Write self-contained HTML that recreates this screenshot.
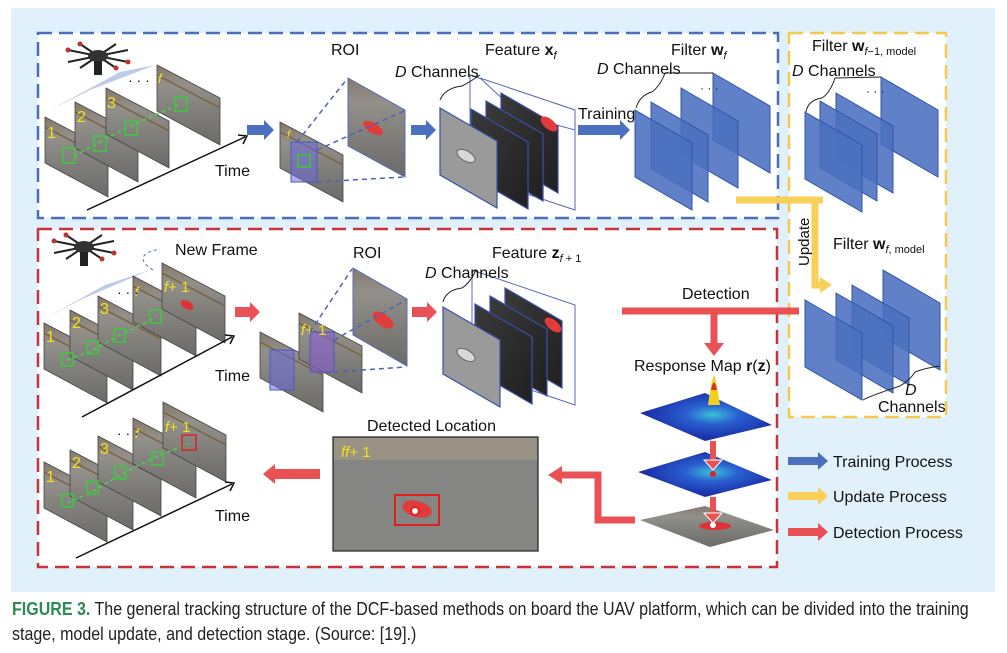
<!DOCTYPE html>
<html><head><meta charset="utf-8"><style>
html,body{margin:0;padding:0;background:#fff;}
body{width:1007px;height:653px;overflow:hidden;position:relative;font-family:"Liberation Sans",sans-serif;}
svg text{font-family:"Liberation Sans",sans-serif;fill:#111;}
.cap{position:absolute;left:12px;font-family:"Liberation Sans Narrow","Liberation Sans",sans-serif;font-size:18px;line-height:25px;color:#231f20;white-space:nowrap;transform-origin:0 0;transform:scaleX(0.89);}
.cap b{color:#2f8a55;}
</style></head><body>
<svg width="1007" height="595" viewBox="0 0 1007 595" style="position:absolute;left:0;top:0">
<defs>
<linearGradient id="road" x1="0" y1="0" x2="0" y2="1"><stop offset="0" stop-color="#85796a"/><stop offset="0.25" stop-color="#93908a"/><stop offset="1" stop-color="#6a6a68"/></linearGradient>
<linearGradient id="dark" x1="0" y1="0" x2="1" y2="1"><stop offset="0" stop-color="#3a3a3a"/><stop offset="1" stop-color="#202020"/></linearGradient>
<radialGradient id="heat" cx="0.55" cy="0.45" r="0.5"><stop offset="0" stop-color="#39c1d8"/><stop offset="0.4" stop-color="#2a5fd0"/><stop offset="1" stop-color="#1b2fa8"/></radialGradient>
<symbol id="frm" overflow="visible"><polygon points="0,0 63,33 63,80 0,46" fill="url(#road)" stroke="#444" stroke-width="0.8"/><line x1="0" y1="10" x2="63" y2="43" stroke="#7a6140" stroke-width="1.5"/></symbol>
<symbol id="bp" overflow="visible"><polygon points="0,0 57,33 57,100 0,67" fill="#4a70bf" fill-opacity="0.88" stroke="#2f55a8" stroke-width="1"/></symbol>
<symbol id="fp" overflow="visible"><polygon points="0,0 57,33 57,100 0,67" fill="url(#dark)" stroke="#3a4fa8" stroke-width="1.2"/></symbol>
<symbol id="drone" overflow="visible"><g stroke="#222" stroke-width="2"><line x1="-30" y1="-6" x2="30" y2="6"/><line x1="-30" y1="6" x2="30" y2="-6"/><line x1="-18" y1="-12" x2="18" y2="12"/><line x1="-18" y1="12" x2="18" y2="-12"/></g><ellipse cx="0" cy="0" rx="10" ry="6" fill="#333"/><rect x="-4" y="5" width="8" height="14" fill="#222"/><g fill="#c03030"><circle cx="-30" cy="-6" r="2.5"/><circle cx="30" cy="6" r="2.5"/><circle cx="-18" cy="-12" r="2.5"/><circle cx="18" cy="12" r="2.5"/></g></symbol>
</defs>
<rect x="11" y="8" width="984" height="584" fill="#e1f1fb"/>
<rect x="38" y="33" width="740" height="185" fill="#fff" stroke="#4a6fb8" stroke-width="2.5" stroke-dasharray="14,7"/>
<rect x="38" y="229" width="739" height="338" fill="#fff" stroke="#c8333a" stroke-width="2.5" stroke-dasharray="14,7"/>
<rect x="789" y="33" width="157" height="384" fill="#fff" stroke="#f4c94d" stroke-width="2.5" stroke-dasharray="14,7"/>

<use href="#drone" x="98" y="56"/>
<polygon points="50,110 120,72 155,65 90,90" fill="#7d95d0" opacity="0.5"/>
<g>
<use href="#frm" x="45" y="117"/><use href="#frm" x="75" y="102"/><use href="#frm" x="106" y="88"/><use href="#frm" x="157" y="65"/>
</g>
<g font-size="16"><text x="47" y="138" style="fill:#f2e21a">1</text><text x="77" y="122" style="fill:#f2e21a">2</text><text x="107" y="108" style="fill:#f2e21a">3</text><text x="158" y="83" font-style="italic" font-size="13" style="fill:#f2e21a">f</text></g>
<text x="128" y="85" font-size="14">· · ·</text>
<polyline points="74,156 100,142 130,126 180,104" fill="none" stroke="#4cd04c" stroke-width="1.5" stroke-dasharray="4,3"/>
<g fill="none" stroke="#3ec83e" stroke-width="1.5"><rect x="63" y="148" width="12" height="15"/><rect x="94" y="136" width="12" height="15"/><rect x="125" y="121" width="12" height="14"/><rect x="175" y="97" width="12" height="14"/></g>
<line x1="87" y1="210" x2="245" y2="137" stroke="#111" stroke-width="1.5"/>
<polyline points="238,135 247,136 243,144" fill="none" stroke="#111" stroke-width="1.5"/>
<text x="215" y="176" font-size="16">Time</text>
<polygon points="247,125 264,125 264,120 274,130 264,140 264,135 247,135" fill="#4a70bf"/>
<use href="#frm" x="280" y="122"/>
<text x="287" y="138" font-style="italic" font-size="11" style="fill:#f2e21a">f</text>
<rect x="291" y="142" width="26" height="40" fill="#6a6ad8" fill-opacity="0.55" stroke="#4a5ac0"/>
<rect x="298" y="155" width="12" height="12" fill="none" stroke="#3ec83e" stroke-width="1.5"/>
<polygon points="348,78 405,110 405,177 348,146" fill="url(#road)" stroke="#5a6ab8"/>
<ellipse cx="373" cy="128" rx="11" ry="5" transform="rotate(30 373 128)" fill="#e23b3b"/>
<g stroke="#4a62b8" stroke-width="1.5" stroke-dasharray="5,4" fill="none"><line x1="297" y1="142" x2="347" y2="79"/><line x1="317" y1="150" x2="404" y2="111"/><line x1="317" y1="182" x2="404" y2="177"/></g>
<text x="331" y="55" font-size="16">ROI</text>
<polygon points="411,125 426,125 426,120 436,130 426,140 426,135 411,135" fill="#4a70bf"/>
<polygon points="470,75 575,110 575,210 470,175" fill="none" stroke="#5a6ab8"/>
<polygon points="480,78 575,110 575,130 520,115" fill="#fff" stroke="#5a6ab8"/>
<use href="#fp" x="501" y="93"/><use href="#fp" x="486" y="101"/><use href="#fp" x="471" y="109"/>
<polygon points="440,108 497,141 497,208 440,175" fill="#9a9a9a" stroke="#3a4fa8" stroke-width="1.2"/>
<ellipse cx="466" cy="156" rx="10" ry="5" transform="rotate(30 466 156)" fill="#d8d8d8" stroke="#666"/>
<ellipse cx="549" cy="124" rx="10" ry="5" transform="rotate(40 549 124)" fill="#e23b3b"/>
<path d="M440,100 Q445,88 462,86 Q470,82 480,75" fill="none" stroke="#222" stroke-width="1"/>
<text x="395" y="77" font-size="16"><tspan font-style="italic">D</tspan> Channels</text>
<text x="485" y="55" font-size="16">Feature <tspan font-weight="bold">x</tspan><tspan font-size="11" font-style="italic" dy="4">f</tspan></text>
<polygon points="578,125 620,125 620,120 630,130 620,140 620,135 578,135" fill="#4a70bf"/>
<text x="578" y="119" font-size="16">Training</text>
<g><use href="#bp" x="713" y="73"/><use href="#bp" x="681" y="88"/><use href="#bp" x="651" y="102"/><use href="#bp" x="635" y="110"/></g>
<path d="M636,108 Q640,95 652,92 Q660,86 665,73 L713,73" fill="none" stroke="#222" stroke-width="1"/>
<text x="700" y="92" font-size="12">· · ·</text>
<text x="597" y="74" font-size="16"><tspan font-style="italic">D</tspan> Channels</text>
<text x="671" y="55" font-size="16">Filter <tspan font-weight="bold">w</tspan><tspan font-size="11" font-style="italic" dy="4">f</tspan></text>
<g><use href="#bp" x="881" y="77"/><use href="#bp" x="836" y="93"/><use href="#bp" x="820" y="101"/><use href="#bp" x="805" y="112"/></g>
<path d="M806,112 Q808,100 822,98 Q830,93 835,78 L881,77" fill="none" stroke="#222" stroke-width="1"/>
<text x="866" y="95" font-size="12">· · ·</text>
<text x="812" y="51" font-size="16">Filter <tspan font-weight="bold">w</tspan><tspan font-size="11" dy="4"><tspan font-style="italic">f</tspan>−1, model</tspan></text>
<text x="792" y="76" font-size="16"><tspan font-style="italic">D</tspan> Channels</text>
<polyline points="736,200 823,200" stroke="#f8cf57" stroke-width="7" fill="none"/>
<polyline points="815,200 815,285 822,285" stroke="#f8cf57" stroke-width="7" fill="none"/>
<polygon points="820,277 832,285 820,293" fill="#f8cf57"/>
<text x="809" y="266" font-size="15" transform="rotate(-90 809 266)">Update</text>
<text x="833" y="249" font-size="16">Filter <tspan font-weight="bold">w</tspan><tspan font-size="11" dy="4"><tspan font-style="italic">f</tspan>, model</tspan></text>
<g><use href="#bp" x="883" y="270"/><use href="#bp" x="852" y="285"/><use href="#bp" x="836" y="293"/><use href="#bp" x="805" y="300"/></g>
<path d="M863,400 Q870,396 900,386 Q910,380 915,372 Q925,368 940,366" fill="none" stroke="#222" stroke-width="1"/>
<text x="905" y="395" font-size="16" font-style="italic">D</text>
<text x="878" y="412" font-size="16">Channels</text>

<use href="#drone" x="84" y="247"/>
<polygon points="46,318 105,285 150,270 80,300" fill="#7d95d0" opacity="0.5"/>
<g><use href="#frm" x="44" y="323"/><use href="#frm" x="70" y="310"/><use href="#frm" x="98" y="296"/><use href="#frm" x="133" y="276"/><use href="#frm" x="162" y="263"/></g>
<g font-size="16"><text x="46" y="342" style="fill:#f2e21a">1</text><text x="72" y="328" style="fill:#f2e21a">2</text><text x="100" y="314" style="fill:#f2e21a">3</text><text x="135" y="296" font-style="italic" font-size="13" style="fill:#f2e21a">f</text><text x="164" y="292" font-size="15" style="fill:#f2e21a"><tspan font-style="italic">f</tspan>+ 1</text></g>
<text x="117" y="297" font-size="14">· · ·</text>
<ellipse cx="187" cy="305" rx="7" ry="4" transform="rotate(30 187 305)" fill="#d33"/>
<polyline points="67,360 90,352 118,336 155,318" fill="none" stroke="#4cd04c" stroke-width="1.5" stroke-dasharray="4,3"/>
<g fill="none" stroke="#3ec83e" stroke-width="1.5"><rect x="62" y="353" width="11" height="13"/><rect x="87" y="341" width="11" height="13"/><rect x="114" y="329" width="11" height="13"/><rect x="150" y="310" width="11" height="13"/></g>
<path d="M153,270 Q130,255 160,249" fill="none" stroke="#4a70bf" stroke-dasharray="3,3"/>
<text x="175" y="255" font-size="16">New Frame</text>
<line x1="82" y1="417" x2="232" y2="337" stroke="#111" stroke-width="1.5"/>
<polyline points="225,335 234,336 230,344" fill="none" stroke="#111" stroke-width="1.5"/>
<text x="215" y="381" font-size="16">Time</text>
<polygon points="235,307 250,307 250,302 260,312 250,322 250,317 235,317" fill="#ea5155"/>
<use href="#frm" x="260" y="332"/><use href="#frm" x="299" y="313"/>
<rect x="270" y="350" width="24" height="40" fill="#6a6ad8" fill-opacity="0.55" stroke="#4a5ac0"/>
<rect x="310" y="332" width="24" height="40" fill="#8a5ad8" fill-opacity="0.55" stroke="#4a5ac0"/>
<text x="301" y="335" font-size="15" style="fill:#f2e21a"><tspan font-style="italic">f</tspan>+ 1</text>
<polygon points="353,268 407,299 407,366 353,335" fill="url(#road)" stroke="#5a6ab8"/>
<ellipse cx="383" cy="320" rx="12" ry="6" transform="rotate(35 383 320)" fill="#e23b3b"/>
<g stroke="#4a62b8" stroke-width="1.5" stroke-dasharray="5,4" fill="none"><line x1="310" y1="332" x2="352" y2="269"/><line x1="334" y1="340" x2="406" y2="300"/><line x1="334" y1="372" x2="406" y2="367"/></g>
<text x="353" y="258" font-size="16">ROI</text>
<polygon points="412,307 427,307 427,302 437,312 427,322 427,317 412,317" fill="#ea5155"/>
<polygon points="472,270 575,305 575,405 472,370" fill="none" stroke="#5a6ab8"/>
<use href="#fp" x="505" y="288"/><use href="#fp" x="490" y="296"/><use href="#fp" x="475" y="304"/>
<polygon points="443,307 500,340 500,407 443,374" fill="#9a9a9a" stroke="#3a4fa8" stroke-width="1.2"/>
<ellipse cx="466" cy="355" rx="10" ry="5" transform="rotate(30 466 355)" fill="#d8d8d8" stroke="#666"/>
<ellipse cx="553" cy="325" rx="10" ry="5" transform="rotate(40 553 325)" fill="#e23b3b"/>
<path d="M443,302 Q446,290 462,288 Q470,283 476,270" fill="none" stroke="#222" stroke-width="1"/>
<text x="425" y="278" font-size="16"><tspan font-style="italic">D</tspan> Channels</text>
<text x="492" y="258" font-size="16">Feature <tspan font-weight="bold">z</tspan><tspan font-size="11" dy="4"><tspan font-style="italic">f</tspan> + 1</tspan></text>
<line x1="622" y1="311" x2="799" y2="311" stroke="#ea5155" stroke-width="7"/>
<line x1="714" y1="311" x2="714" y2="345" stroke="#ea5155" stroke-width="7"/>
<polygon points="704,343 724,343 714,356" fill="#ea5155"/>
<text x="682" y="299" font-size="16">Detection</text>
<text x="634" y="371" font-size="16">Response Map <tspan font-weight="bold">r</tspan>(<tspan font-weight="bold">z</tspan>)</text>
<polygon points="640,413 705,393 772,425 705,441" fill="url(#heat)"/>
<path d="M708,405 Q712,378 714,375 Q716,378 720,405 Z" fill="#f0d020"/><path d="M711,390 Q714,375 717,390 Z" fill="#e03020"/>
<polygon points="638,472 705,452 772,480 705,497" fill="url(#heat)"/>
<circle cx="713" cy="474" r="3" fill="#e02020"/>
<polygon points="640,520 705,506 774,530 710,547" fill="url(#road)"/>
<ellipse cx="715" cy="526" rx="16" ry="4" fill="#d33"/><circle cx="713" cy="525" r="4" fill="#fff" stroke="#d33" stroke-width="2"/>
<line x1="713" y1="441" x2="713" y2="462" stroke="#ea5155" stroke-width="6"/><polygon points="704,460 722,460 713,470" fill="#ea5155" stroke="#fff"/>
<line x1="713" y1="497" x2="713" y2="515" stroke="#ea5155" stroke-width="6"/><polygon points="704,513 722,513 713,523" fill="#ea5155" stroke="#fff"/>
<polyline points="635,520 598,520 598,475 560,475" fill="none" stroke="#ea5155" stroke-width="7"/>
<polygon points="562,466 548,475 562,484" fill="#ea5155"/>
<text x="367" y="431" font-size="16">Detected Location</text>
<rect x="333" y="437" width="205" height="114" fill="#858583" stroke="#222" stroke-width="1.2"/>
<rect x="334" y="438" width="203" height="22" fill="#9a9284"/>
<text x="341" y="457" font-size="15" style="fill:#f2e21a"><tspan font-style="italic">ff</tspan>+ 1</text>
<rect x="395" y="495" width="44" height="30" fill="none" stroke="#e02020" stroke-width="2"/>
<ellipse cx="417" cy="509" rx="15" ry="8" transform="rotate(15 417 509)" fill="#e23b3b"/>
<circle cx="415" cy="511" r="4" fill="#fff" stroke="#e02020" stroke-width="2"/>
<polygon points="320,469 275,469 275,464 263,474 275,484 275,479 320,479" fill="#ea5155"/>
<g><use href="#frm" x="44" y="462"/><use href="#frm" x="70" y="450"/><use href="#frm" x="98" y="436"/><use href="#frm" x="133" y="418"/><use href="#frm" x="163" y="402"/></g>
<g font-size="16"><text x="46" y="482" style="fill:#f2e21a">1</text><text x="72" y="468" style="fill:#f2e21a">2</text><text x="100" y="454" style="fill:#f2e21a">3</text><text x="135" y="438" font-style="italic" font-size="13" style="fill:#f2e21a">f</text><text x="165" y="432" font-size="15" style="fill:#f2e21a"><tspan font-style="italic">f</tspan>+ 1</text></g>
<text x="117" y="438" font-size="14">· · ·</text>
<polyline points="67,503 92,492 120,475 155,457 188,444" fill="none" stroke="#4cd04c" stroke-width="1.5" stroke-dasharray="4,3"/>
<g fill="none" stroke-width="1.5"><rect x="62" y="494" width="11" height="13" stroke="#3ec83e"/><rect x="87" y="481" width="11" height="13" stroke="#3ec83e"/><rect x="115" y="466" width="11" height="13" stroke="#3ec83e"/><rect x="152" y="452" width="11" height="13" stroke="#3ec83e"/><rect x="182" y="435" width="14" height="15" stroke="#e02020"/></g>
<line x1="76" y1="558" x2="232" y2="484" stroke="#111" stroke-width="1.5"/>
<polyline points="225,482 234,483 230,491" fill="none" stroke="#111" stroke-width="1.5"/>
<text x="215" y="521" font-size="16">Time</text>
<g>
<polygon points="788,457 818,457 818,452 828,461 818,470 818,465 788,465" fill="#4a70bf"/>
<text x="833" y="467" font-size="16">Training Process</text>
<polygon points="788,492 818,492 818,487 828,496 818,505 818,500 788,500" fill="#f8cf57"/>
<text x="833" y="502" font-size="16">Update Process</text>
<polygon points="788,528 818,528 818,523 828,532 818,541 818,536 788,536" fill="#ea5155"/>
<text x="833" y="538" font-size="16">Detection Process</text>
</g>
</svg>
<div class="cap" style="top:597px"><b>FIGURE 3.</b> The general tracking structure of the DCF-based methods on board the UAV platform, which can be divided into the training</div>
<div class="cap" style="top:622px">stage, model update, and detection stage. (Source: [19].)</div>
</body></html>
